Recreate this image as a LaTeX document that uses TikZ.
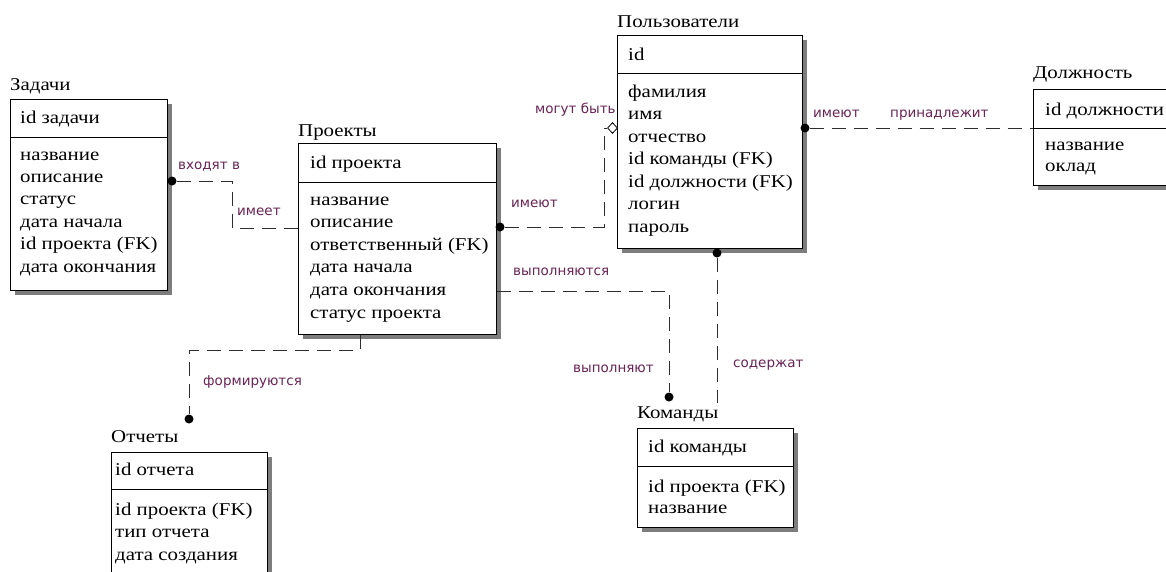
\documentclass[tikz,border=0pt]{standalone}
\usepackage{fontspec}
\setmainfont{Liberation Serif}[FakeStretch=1.16]
\newfontfamily\lblfont{DejaVu Sans}
\usetikzlibrary{shadows,shapes.geometric}
\definecolor{lblc}{RGB}{105,35,85}
\definecolor{linec}{RGB}{45,45,45}
\definecolor{shc}{RGB}{125,125,125}
\newcommand\attrlist[5]{%
  \foreach \t [count=\i from 0] in {#5}{\node[attr] (#1-a\i) at (#2,{#3+\i*#4}) {\t};}}
\begin{document}
\begin{tikzpicture}[x=1pt,y=-1pt,
  ebox/.style={draw=black, line width=0.9pt, fill=white, inner sep=0pt, anchor=north west,
    drop shadow={shadow xshift=5pt, shadow yshift=-5pt, opacity=1, fill=shc}},
  sepline/.style={draw=black, line width=0.9pt},
  attr/.style={font=\fontsize{18}{21}\selectfont, anchor=base west, inner sep=0pt},
  etitle/.style={font=\fontsize{18}{21}\selectfont, anchor=base west, inner sep=0pt},
  lbl/.style={font=\lblfont\fontsize{13.5}{16}\selectfont, text=lblc, anchor=base west, inner sep=0pt},
  rel/.style={draw=linec, line width=1pt, dash pattern=on 14pt off 8pt},
  dotn/.style={circle, fill=black, inner sep=0pt, minimum size=9pt},
  diam/.style={diamond, draw=black, line width=0.8pt, fill=white, inner sep=0pt, minimum width=10pt, minimum height=11pt}
]
\useasboundingbox[fill=white] (0,0) rectangle (1166,571);

% ---------- Задачи ----------
\node[etitle] (zad-t) at (10,90) {Задачи};
\node[ebox, minimum width=157pt, minimum height=191pt] (zad) at (10,99) {};
\draw[sepline] (zad.west |- 0,137) -- (zad.east |- 0,137);
\node[attr] (zad-k) at (20,123) {id задачи};
\attrlist{zad}{20}{160}{22.4}{название,описание,статус,дата начала,id проекта (FK),дата окончания}

% ---------- Проекты ----------
\node[etitle] (proj-t) at (298,136) {Проекты};
\node[ebox, minimum width=198pt, minimum height=191pt] (proj) at (298,143) {};
\draw[sepline] (proj.west |- 0,182) -- (proj.east |- 0,182);
\node[attr] (proj-k) at (310,168) {id проекта};
\attrlist{proj}{310}{205}{22.6}{название,описание,ответственный (FK),дата начала,дата окончания,статус проекта}

% ---------- Пользователи ----------
\node[etitle] (usr-t) at (617,27) {Пользователи};
\node[ebox, minimum width=185pt, minimum height=213pt] (usr) at (617,35) {};
\draw[sepline] (usr.west |- 0,73) -- (usr.east |- 0,73);
\node[attr] (usr-k) at (628,60) {id};
\attrlist{usr}{628}{97}{22.5}{фамилия,имя,отчество,id команды (FK),id должности (FK),логин,пароль}

% ---------- Должность ----------
\node[etitle] (dolj-t) at (1033,78) {Должность};
\node[ebox, minimum width=140pt, minimum height=96pt] (dolj) at (1033,89) {};
\draw[sepline] (dolj.west |- 0,128) -- (dolj.east |- 0,128);
\node[attr] (dolj-k) at (1045,115) {id должности};
\attrlist{dolj}{1045}{150}{21.5}{название,оклад}

% ---------- Отчеты ----------
\node[etitle] (otch-t) at (111,442) {Отчеты};
\node[ebox, minimum width=156pt, minimum height=160pt] (otch) at (111,452) {};
\draw[sepline] (otch.west |- 0,489) -- (otch.east |- 0,489);
\node[attr] (otch-k) at (115,475) {id отчета};
\attrlist{otch}{115}{515}{22.5}{id проекта (FK),тип отчета,дата создания}

% ---------- Команды ----------
\node[etitle] (kom-t) at (637,418) {Команды};
\node[ebox, minimum width=156pt, minimum height=99pt] (kom) at (637,428) {};
\draw[sepline] (kom.west |- 0,466) -- (kom.east |- 0,466);
\node[attr] (kom-k) at (648,452) {id команды};
\attrlist{kom}{648}{492}{21.5}{id проекта (FK),название}

% ---------- connectors ----------
% Задачи -- Проекты
\node[dotn] (d1) at (172,181) {};
\draw[rel] (d1) -| (232,228) -- (proj.west |- 0,228);
\node[lbl] (l1) at (178,169) {входят в};
\node[lbl] (l2) at (237,215) {имеет};

% Проекты -- Пользователи
\node[dotn] (d2) at (500,227) {};
\node[diam] (dm2) at (612.5,128) {};
\draw[rel] (d2) -| (604,128) -- (dm2.west);
\node[lbl] (l3) at (511,207) {имеют};
\node[lbl] (l4) at (535,113) {могут быть};

% Проекты -- Команды
\node[dotn] (d3) at (669,397) {};
\draw[rel] (proj.east |- 0,291) -| (d3);
\node[lbl] (l5) at (513,275) {выполняются};
\node[lbl] (l6) at (573,372) {выполняют};

% Пользователи -- Команды
\node[dotn] (d4) at (717,253) {};
\coordinate (e4) at (717,403);
\draw[rel] (d4) -- (e4);
\node[lbl] (l7) at (733,367) {содержат};

% Пользователи -- Должность
\node[dotn] (d5) at (805,128) {};
\draw[rel] (d5) -- (dolj.west |- d5);
\node[lbl] (l8) at (813,117) {имеют};
\node[lbl] (l9) at (890,117) {принадлежит};

% Проекты -- Отчеты
\node[dotn] (d6) at (189,419) {};
\draw[rel] (proj.south -| 360,0) |- (189,350) -- (d6);
\node[lbl] (l10) at (203,385) {формируются};
\end{tikzpicture}
\end{document}
